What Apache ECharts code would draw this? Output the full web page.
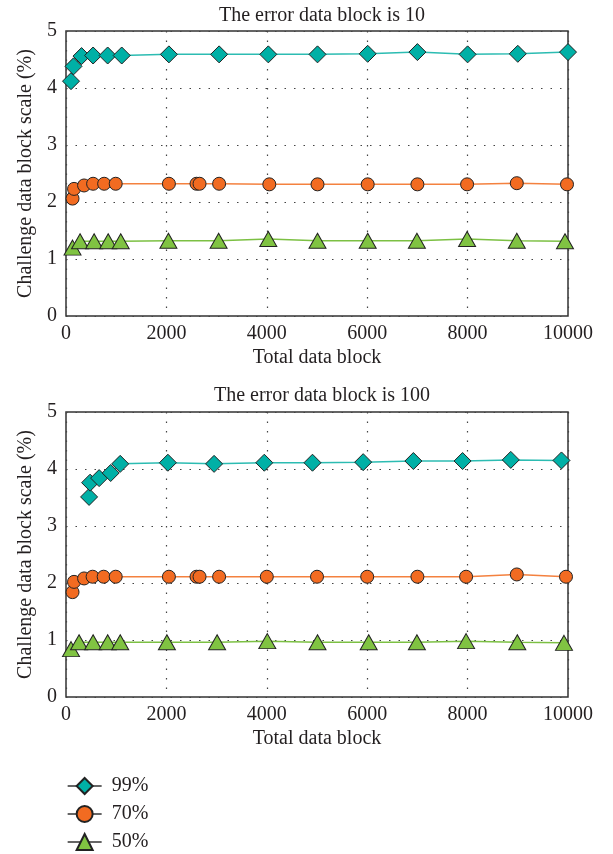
<!DOCTYPE html>
<html>
<head>
<meta charset="utf-8">
<title>Challenge data block scale</title>
<script src="https://cdn.jsdelivr.net/npm/echarts@6/dist/echarts.min.js"></script>
<style>
    html, body { margin: 0; padding: 0; background: #fff; }
    #chart { width: 613px; height: 854px; }
</style>
</head>
<body>
<div id="chart"></div>
<script>
// error data block = 10
var x99_10 = [100, 150, 310, 540, 830, 1110, 2050, 3050, 4030, 5010, 6010, 7000, 8000, 9000, 10000];
var y99_10 = [4.12, 4.38, 4.56, 4.57, 4.57, 4.57, 4.59, 4.59, 4.59, 4.59, 4.60, 4.63, 4.59, 4.60, 4.63];
var x70_10 = [130, 160, 360, 540, 760, 990, 2050, 2600, 2660, 3050, 4050, 5010, 6010, 7000, 7990, 8980, 9980];
var y70_10 = [2.06, 2.23, 2.29, 2.32, 2.32, 2.32, 2.32, 2.32, 2.32, 2.32, 2.31, 2.31, 2.31, 2.31, 2.31, 2.33, 2.31];
var x50_10 = [130, 280, 560, 840, 1090, 2040, 3040, 4030, 5010, 6010, 6990, 7990, 8980, 9940];
var y50_10 = [1.20, 1.31, 1.31, 1.31, 1.31, 1.32, 1.32, 1.35, 1.32, 1.32, 1.32, 1.35, 1.32, 1.31];

// error data block = 100
var x99_100 = [460, 480, 660, 890, 1080, 2030, 2950, 3950, 4910, 5920, 6920, 7900, 8860, 9870];
var y99_100 = [3.51, 3.76, 3.84, 3.93, 4.09, 4.11, 4.09, 4.11, 4.11, 4.12, 4.14, 4.14, 4.16, 4.15];
var x70_100 = [130, 160, 360, 530, 750, 990, 2050, 2600, 2660, 3050, 4000, 5000, 6000, 7000, 7970, 8980, 9960];
var y70_100 = [1.84, 2.02, 2.08, 2.11, 2.11, 2.11, 2.11, 2.11, 2.11, 2.11, 2.11, 2.11, 2.11, 2.11, 2.11, 2.15, 2.11];
var x50_100 = [100, 260, 540, 830, 1080, 2010, 3010, 4010, 5010, 6030, 6990, 7970, 8990, 9920];
var y50_100 = [0.84, 0.96, 0.96, 0.96, 0.96, 0.96, 0.96, 0.98, 0.96, 0.96, 0.96, 0.98, 0.96, 0.95];

var titles = ['The error data block is 10', 'The error data block is 100'];
var legendNames = ['99%', '70%', '50%'];

var FONT = 'Liberation Serif';
var TEXT = '#231f20';

function zip(xs, ys) {
    return xs.map(function (x, i) { return [x, ys[i]]; });
}

// one entry per legend name: marker shape, fill, line colour
var styles = [
    { symbol: 'diamond', size: [17, 17], fill: '#00b0a6', line: '#2cbcb2' },
    { symbol: 'circle', size: 13, fill: '#f26b21', line: '#f4813f' },
    { symbol: 'triangle', size: [17, 15], fill: '#80c342', line: '#7cc043' }
];

function makeSeries(name, idx, data) {
    var s = styles[legendNames.indexOf(name)];
    return {
        name: name,
        type: 'line',
        xAxisIndex: idx,
        yAxisIndex: idx,
        data: data,
        symbol: s.symbol,
        symbolSize: s.size,
        showAllSymbol: true,
        lineStyle: { color: s.line, width: 1.5 },
        itemStyle: { color: s.fill, borderColor: '#222', borderWidth: 1 },
        emphasis: { disabled: true },
        animation: false
    };
}

function xAxisFor(idx) {
    return {
        type: 'value', gridIndex: idx, min: 0, max: 10000, interval: 2000,
        name: 'Total data block', nameLocation: 'middle', nameGap: 32,
        nameTextStyle: { fontFamily: FONT, fontSize: 20, color: TEXT },
        axisLine: { show: false },
        axisTick: { show: false },
        axisLabel: {
            fontFamily: FONT, fontSize: 20, color: TEXT, margin: 8,
            formatter: function (v) { return String(v); }
        },
        splitLine: { show: true, lineStyle: { color: '#444', type: [1.5, 8], width: 1.2 } }
    };
}

function yAxisFor(idx) {
    return {
        type: 'value', gridIndex: idx, min: 0, max: 5, interval: 1,
        name: 'Challenge data block scale (%)', nameLocation: 'middle', nameGap: 27,
        nameTextStyle: { fontFamily: FONT, fontSize: 20, color: TEXT },
        axisLine: { show: false },
        axisTick: { show: false },
        axisLabel: { fontFamily: FONT, fontSize: 20, color: TEXT, margin: 9 },
        splitLine: { show: true, lineStyle: { color: '#444', type: [1.5, 8], width: 1.2 } }
    };
}

var chart = echarts.init(document.getElementById('chart'), null, { renderer: 'canvas' });

var option = {
    backgroundColor: '#fff',
    animation: false,
    title: [
        { text: titles[0], left: 317, top: 1, textAlign: 'center',
          textStyle: { fontFamily: FONT, fontSize: 20, fontWeight: 'normal', color: TEXT } },
        { text: titles[1], left: 317, top: 381, textAlign: 'center',
          textStyle: { fontFamily: FONT, fontSize: 20, fontWeight: 'normal', color: TEXT } }
    ],
    legend: {
        data: legendNames,
        orient: 'vertical',
        left: 67, top: 776, height: 120, padding: 0,
        itemWidth: 34, itemHeight: 20, itemGap: 8,
        lineStyle: { color: '#333', width: 1.3 },
        textStyle: { fontFamily: FONT, fontSize: 20, color: TEXT, padding: [0, 0, 0, 5] },
        selectedMode: false
    },
    grid: [
        { left: 66, top: 31, width: 502, height: 285, show: true, borderColor: '#333', borderWidth: 1.5 },
        { left: 66, top: 412, width: 502, height: 285, show: true, borderColor: '#333', borderWidth: 1.5 }
    ],
    xAxis: [xAxisFor(0), xAxisFor(1)],
    yAxis: [yAxisFor(0), yAxisFor(1)],
    series: [
        makeSeries('99%', 0, zip(x99_10, y99_10)),
        makeSeries('70%', 0, zip(x70_10, y70_10)),
        makeSeries('50%', 0, zip(x50_10, y50_10)),
        makeSeries('99%', 1, zip(x99_100, y99_100)),
        makeSeries('70%', 1, zip(x70_100, y70_100)),
        makeSeries('50%', 1, zip(x50_100, y50_100))
    ]
};

chart.setOption(option);
</script>
</body>
</html>
